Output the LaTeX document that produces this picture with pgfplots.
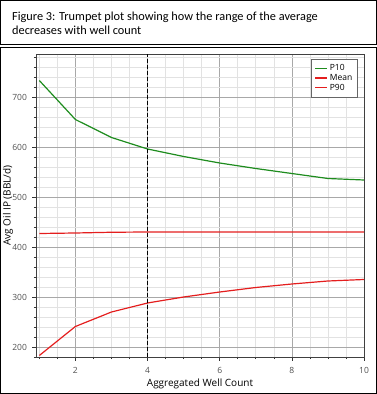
\documentclass[border=0pt]{standalone}
\usepackage{fontspec}
\setmainfont{Open Sans}
\newfontfamily\capfont{Carlito}
\usepackage{pgfplots}
\pgfplotsset{compat=1.18}
\definecolor{pten}{HTML}{1E8C1E}
\definecolor{pred}{HTML}{E41E1E}
\definecolor{majgrid}{HTML}{A8A8A8}
\definecolor{mingrid}{HTML}{E2E2E2}
\definecolor{ticktext}{HTML}{505050}
\begin{document}
\begin{tikzpicture}[x=1pt,y=1pt]
\useasboundingbox (0,0) rectangle (377,394);
% caption box
\draw[line width=1.2pt] (0.6,349.5) rectangle (376.4,393.4);
\node[anchor=base west,inner sep=0pt,font=\capfont\fontsize{12.3}{15}\selectfont] at (12,373.7) {Figure 3: Trumpet plot showing how the range of the average};
\node[anchor=base west,inner sep=0pt,font=\capfont\fontsize{12.3}{15}\selectfont] at (12,359) {decreases with well count};
% chart box
\draw[line width=1.2pt] (0.6,0.6) rectangle (376.4,346.5);
\begin{axis}[
  at={(36pt,37pt)}, anchor=south west,
  scale only axis, width=328pt, height=303pt,
  xmin=0.908, xmax=10, ymin=180, ymax=786,
  xtick={2,4,6,8,10},
  minor xtick={1,1.5,2.5,3,3.5,4.5,5,5.5,6.5,7,7.5,8.5,9,9.5},
  ytick={200,300,400,500,600,700},
  minor ytick={180,220,240,260,280,320,340,360,380,420,440,460,480,520,540,560,580,620,640,660,680,720,740,760,780},
  grid=both,
  major grid style={majgrid, line width=0.6pt},
  minor grid style={mingrid, line width=0.6pt},
  tick align=outside,
  major tick length=3.5pt, minor tick length=2pt,
  tick style={black!80, line width=0.6pt},
  xtick pos=bottom, ytick pos=left,
  axis line style={black!75, line width=0.8pt},
  /pgf/number format/assume math mode=true,
  ticklabel style={font=\fontsize{8.5}{10}\selectfont, text=ticktext},
  xticklabel style={yshift=-3pt},
  yticklabel style={xshift=-2pt},
  label style={font=\fontsize{8.5}{10}\selectfont, text=black!80},
  xlabel={Aggregated Well Count},
  ylabel={Avg Oil IP (BBL/d)},
  every axis x label/.style={at={(axis description cs:0.5,-0.089)}, anchor=center},
  every axis y label/.style={at={(axis description cs:-0.0854,0.5)}, anchor=center, rotate=90},
  legend style={at={(0.98,0.9835)}, anchor=north east, draw=black!60,
    font=\fontsize{8.5}{10}\selectfont, inner xsep=3pt, inner ysep=4.5pt, fill=white,
    nodes={inner ysep=1pt}},
  legend cell align=left,
  legend image code/.code={\draw[line width=1.4pt,#1] (0pt,0pt) -- (12pt,0pt);},
]
\addplot[color=pten, line width=1.2pt] coordinates {(1,733) (2,655) (3,619) (4,596) (5,581) (6,568) (7,557) (8,547) (9,537) (10,534)};
\addlegendentry{P10}
\addplot[color=pred, line width=1.2pt] coordinates {(1,427) (2,428) (3,429.5) (4,430) (5,430) (6,430) (7,430) (8,430) (9,430) (10,430)};
\addlegendentry{Mean}
\addplot[color=pred, line width=1.2pt] coordinates {(1,183) (2,241) (3,270) (4,288) (5,300) (6,310) (7,319) (8,326) (9,332) (10,335)};
\addlegendentry{P90}
\addplot[draw=black, line width=1.5pt, dash pattern=on 4pt off 2pt, forget plot] coordinates {(4,180) (4,786)};
\end{axis}
\end{tikzpicture}
\end{document}
